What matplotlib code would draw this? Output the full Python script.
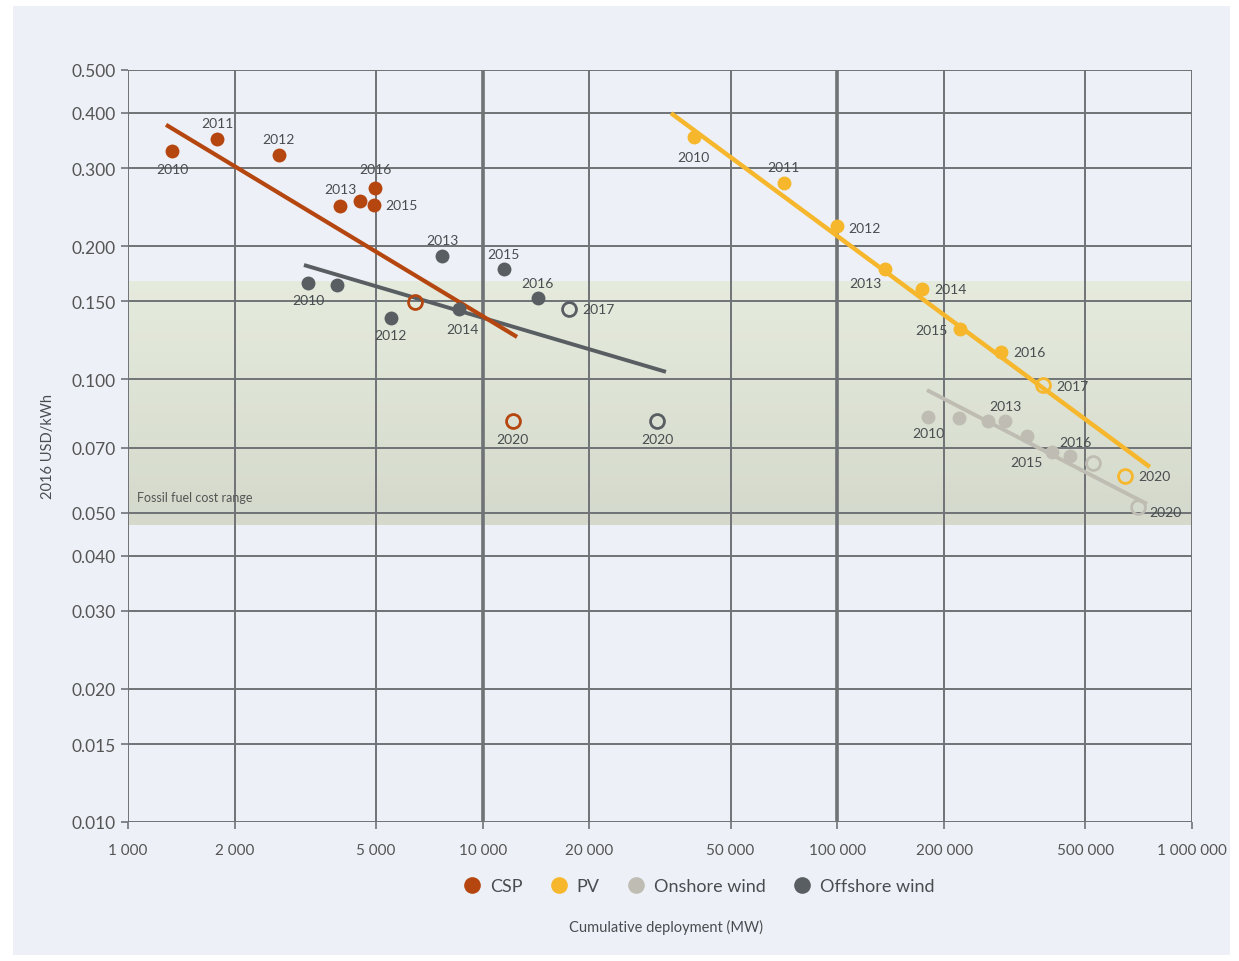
"""Learning curves: LCOE vs cumulative deployment for CSP, PV, onshore and offshore wind."""

import matplotlib
matplotlib.use("Agg")
import matplotlib.pyplot as plt
import numpy as np
from matplotlib.lines import Line2D
from matplotlib.patches import Rectangle
from matplotlib.ticker import FixedLocator, FixedFormatter, NullLocator

plt.rcParams["font.family"] = ["Lato", "DejaVu Sans"]

# ---- data ----
csp_years = [2010, 2011, 2012, 2013, 2014, 2015, 2016, 2017, 2020]
csp_x = [1330, 1780, 2665, 3960, 4510, 4940, 4970, 6440, 12170]
csp_y = [0.328, 0.349, 0.321, 0.246, 0.253, 0.248, 0.271, 0.1496, 0.0805]
csp_open = [False] * 7 + [True, True]
csp_trend_x = [1280, 12500]
csp_trend_y = [0.376, 0.1247]

pv_years = [2010, 2011, 2012, 2013, 2014, 2015, 2016, 2017, 2020]
pv_x = [39400, 70700, 99760, 136200, 173200, 221600, 289100, 379900, 647000]
pv_y = [0.353, 0.278, 0.222, 0.1776, 0.160, 0.130, 0.1153, 0.0971, 0.0605]
pv_open = [False] * 7 + [True, True]
pv_trend_x = [33960, 760400]
pv_trend_y = [0.3995, 0.0634]

on_years = [2010, 2011, 2012, 2013, 2014, 2015, 2016, 2017, 2020]
on_x = [180100, 220200, 265800, 296900, 342300, 402700, 452600, 525500, 703800]
on_y = [0.0822, 0.0818, 0.0805, 0.0805, 0.0745, 0.0685, 0.0671, 0.0647, 0.0515]
on_open = [False] * 7 + [True, True]
on_trend_x = [178900, 746500]
on_trend_y = [0.0946, 0.0523]

off_years = [2010, 2011, 2012, 2013, 2014, 2015, 2016, 2017, 2020]
off_x = [3217, 3882, 5513, 7680, 8580, 11480, 14320, 17510, 31000]
off_y = [0.165, 0.163, 0.1377, 0.190, 0.144, 0.1776, 0.1527, 0.1442, 0.0805]
off_open = [False] * 7 + [True, True]
off_trend_x = [3134, 32870]
off_trend_y = [0.1813, 0.104]

fossil_low, fossil_high = 0.047, 0.167

x_ticks = [1000, 2000, 5000, 10000, 20000, 50000, 100000, 200000, 500000, 1000000]
x_labels = ["1 000", "2 000", "5 000", "10 000", "20 000", "50 000",
            "100 000", "200 000", "500 000", "1 000 000"]
y_ticks = [0.010, 0.015, 0.020, 0.030, 0.040, 0.050, 0.070, 0.100,
           0.150, 0.200, 0.300, 0.400, 0.500]
y_labels = [f"{v:.3f}" for v in y_ticks]

# ---- label placement: year -> (dx, dy in pixels, ha) ----
csp_lab = {2010: (0, -18, "center"), 2011: (1, 16, "center"), 2012: (0, 16, "center"),
           2013: (0, 17, "center"), 2015: (11, 0, "left"), 2016: (1, 19, "center"),
           2020: (0, -18, "center")}
off_lab = {2010: (0, -17, "center"), 2012: (0, -17, "center"), 2013: (0, 16, "center"),
           2014: (3, -20, "center"), 2015: (0, 15, "center"), 2016: (0, 15, "center"),
           2017: (13, 0, "left"), 2020: (0, -18, "center")}
pv_lab = {2010: (0, -20, "center"), 2011: (0, 16, "center"), 2012: (11, -2, "left"),
          2013: (-19, -14, "center"), 2014: (12, 0, "left"), 2015: (-12, -1, "right"),
          2016: (12, 0, "left"), 2017: (13, -1, "left"), 2020: (13, 0, "left")}
on_lab = {2010: (0, -16, "center"), 2013: (0, 15, "center"), 2015: (-25, -10, "center"),
          2016: (6, 14, "center"), 2020: (11, -5, "left")}

C_CSP = "#b5460f"
C_PV = "#f6b72c"
C_ON = "#bfbdb3"
C_OFF = "#595e62"
GRID = "#6f7376"
TXT = "#4a4d50"

W, H = 1239, 962
fig = plt.figure(figsize=(W / 100, H / 100), dpi=100, facecolor="white")
fig.patches.append(Rectangle((13 / W, 1 - 956 / H), 1217 / W, 949 / H,
                             transform=fig.transFigure, facecolor="#edf0f6",
                             edgecolor="none", zorder=-10))

ax = fig.add_axes([128 / W, 1 - 823 / H, (1192 - 128) / W, (823 - 71) / H])
ax.set_facecolor("#edf0f6")
ax.set_xscale("log")
ax.set_yscale("log")
ax.set_xlim(1000, 1000000)
ax.set_ylim(0.010, 0.500)

# fossil fuel band, light at top to slightly darker at bottom
edges = np.geomspace(fossil_low, fossil_high, 25)
top_c = np.array([0.895, 0.918, 0.862])
bot_c = np.array([0.830, 0.850, 0.800])
for i in range(len(edges) - 1):
    t = i / (len(edges) - 2)
    ax.axhspan(edges[i], edges[i + 1], color=bot_c + (top_c - bot_c) * t, lw=0, zorder=0.2)
ax.text(1060, 0.0542, "Fossil fuel cost range", fontsize=9, color="#555", va="center",
        zorder=3)

# grid
for xv in x_ticks:
    lw = 2.6 if xv in (10000, 100000) else 1.4
    ax.axvline(xv, color=GRID, lw=lw, zorder=0.6)
for yv in y_ticks:
    ax.axhline(yv, color=GRID, lw=1.4, zorder=0.6)
for s in ax.spines.values():
    s.set_visible(False)

ax.xaxis.set_major_locator(FixedLocator(x_ticks))
ax.xaxis.set_major_formatter(FixedFormatter(x_labels))
ax.xaxis.set_minor_locator(NullLocator())
ax.yaxis.set_major_locator(FixedLocator(y_ticks))
ax.yaxis.set_major_formatter(FixedFormatter(y_labels))
ax.yaxis.set_minor_locator(NullLocator())
ax.tick_params(axis="both", length=5, width=1.2, color=GRID, labelcolor="#555")
ax.tick_params(axis="x", pad=10, labelsize=11)
ax.tick_params(axis="y", pad=4, labelsize=12.5)


def draw_series(xs, ys, opens, years, labels, tx, ty, color, lw):
    ax.plot(tx, ty, color=color, lw=lw, solid_capstyle="butt", zorder=2)
    for xv, yv, op, yr in zip(xs, ys, opens, years):
        if op:
            ax.plot(xv, yv, "o", ms=10, mfc="none", mec=color, mew=2, zorder=4)
        else:
            ax.plot(xv, yv, "o", ms=10, mfc=color, mec="none", zorder=4)
        if yr in labels:
            dx, dy, ha = labels[yr]
            ax.annotate(str(yr), (xv, yv), xytext=(dx, dy), textcoords="offset pixels",
                        ha=ha, va="center", fontsize=10, color=TXT, zorder=5)


draw_series(on_x, on_y, on_open, on_years, on_lab, on_trend_x, on_trend_y, C_ON, 2.8)
draw_series(off_x, off_y, off_open, off_years, off_lab, off_trend_x, off_trend_y, C_OFF, 2.8)
draw_series(csp_x, csp_y, csp_open, csp_years, csp_lab, csp_trend_x, csp_trend_y, C_CSP, 3)
draw_series(pv_x, pv_y, pv_open, pv_years, pv_lab, pv_trend_x, pv_trend_y, C_PV, 3.2)

ax.set_ylabel("2016 USD/kWh", fontsize=10.5, color=TXT, labelpad=12)

handles = [Line2D([], [], ls="none", marker="o", ms=12, mfc=c, mec="none", label=l)
           for c, l in [(C_CSP, "CSP"), (C_PV, "PV"), (C_ON, "Onshore wind"),
                        (C_OFF, "Offshore wind")]]
fig.legend(handles=handles, loc="center", bbox_to_anchor=(694 / W, 1 - 887 / H), ncol=4,
           frameon=False, fontsize=13, handletextpad=0.0, columnspacing=1.0,
           labelcolor=TXT)
fig.text(666 / W, 1 - 927 / H, "Cumulative deployment (MW)", ha="center", va="center",
         fontsize=10.5, color=TXT)

fig.savefig("out.png", dpi=100, facecolor=fig.get_facecolor())
